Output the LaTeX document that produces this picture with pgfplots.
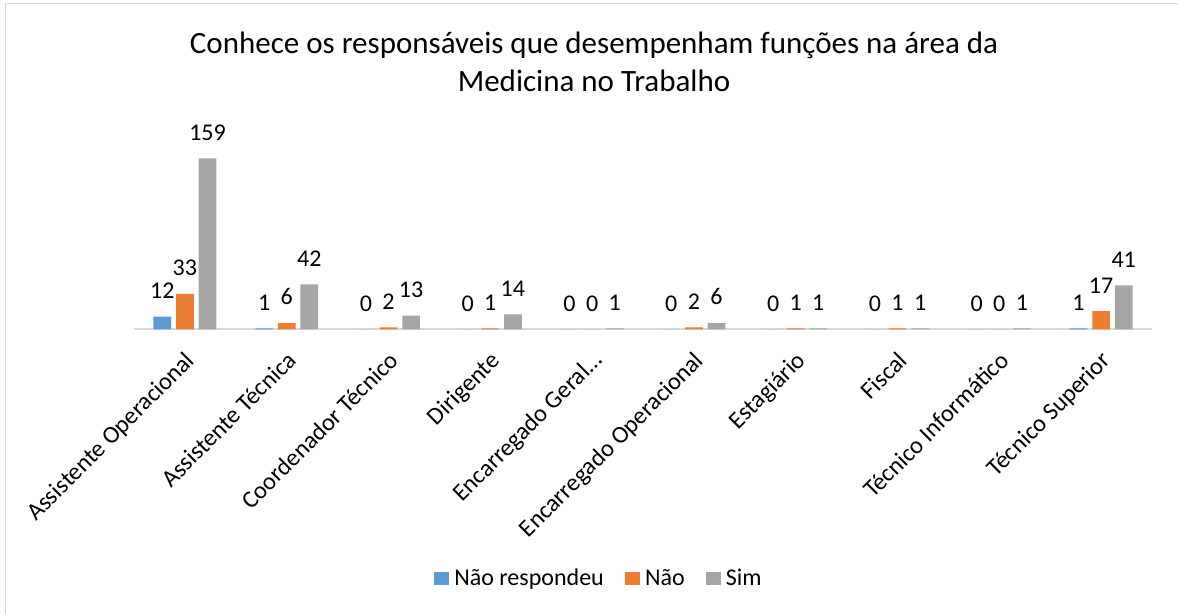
\documentclass[border=0pt]{standalone}
\usepackage{fontspec}
\setmainfont{Carlito}
\usepackage{pgfplots}
\pgfplotsset{compat=1.18}
\definecolor{cblue}{HTML}{5B9BD5}
\definecolor{corange}{HTML}{ED7D31}
\definecolor{cgray}{HTML}{A5A5A5}
\definecolor{framegray}{HTML}{D9D9D9}
\newcommand{\lab}{\fontsize{12}{14}\selectfont}
\newcommand{\tlab}{\fontsize{12.2}{14}\selectfont}
\pgfplotsset{legsq/.style={legend image code/.code={\fill[##1, draw=none] (0pt,-3pt) rectangle (7.3pt,3.7pt);}}}
\begin{document}
\begin{tikzpicture}
\path[use as bounding box] (0,0) rectangle (589pt,307pt);
\draw[framegray, line width=0.75pt] (2.75pt,0) -- (2.75pt,305.25pt) -- (589pt,305.25pt);
\node[anchor=base, font=\fontsize{15.5}{18}\selectfont] at (297pt,280pt) {Conhece os responsáveis que desempenham funções na área da};
\node[anchor=base, font=\fontsize{15.5}{18}\selectfont] at (297pt,261pt) {Medicina no Trabalho};
\begin{axis}[
  at={(67pt,142.25pt)}, anchor=south west,
  scale only axis, width=509pt, height=96.8pt,
  ybar=2.45pt, bar width=8.85pt,
  xmin=-0.5, xmax=9.5, ymin=0, ymax=180,
  xtick=data,
  xticklabels={Assistente Operacional, Assistente Técnica, Coordenador Técnico, Dirigente, Encarregado Geral…, Encarregado Operacional, Estagiário, Fiscal, Técnico Informático, Técnico Superior},
  ytick=\empty,
  axis x line*=bottom, axis y line=none,
  x axis line style={-, draw=framegray, line width=1pt},
  major tick length=0pt,
  xticklabel style={font=\tlab, inner sep=0pt, xshift=-0.5pt, yshift=-10pt, rotate=45, anchor=north east},
  nodes near coords,
  nodes near coords style={font=\lab, inner sep=0pt, anchor=south, yshift=8.8pt, text=black},
  /pgf/number format/assume math mode=true,
  legend style={at={(0.4558,-1.289)}, anchor=center, draw=none, fill=none, font=\lab, legend columns=-1,
    nodes={inner sep=0pt},
    /tikz/every odd column/.append style={column sep=2.65pt},
    /tikz/every even column/.append style={column sep=10.65pt}},
  clip=false,
]
\addplot[fill=cblue, draw=none, legsq] coordinates {(0,12) (1,1) (2,0) (3,0) (4,0) (5,0) (6,0) (7,0) (8,0) (9,1)};
\addplot[fill=corange, draw=none, legsq] coordinates {(0,33) (1,6) (2,2) (3,1) (4,0) (5,2) (6,1) (7,1) (8,0) (9,17)};
\addplot[fill=cgray, draw=none, legsq] coordinates {(0,159) (1,42) (2,13) (3,14) (4,1) (5,6) (6,1) (7,1) (8,1) (9,41)};
\legend{Não respondeu, Não, Sim}
\end{axis}
\end{tikzpicture}
\end{document}
